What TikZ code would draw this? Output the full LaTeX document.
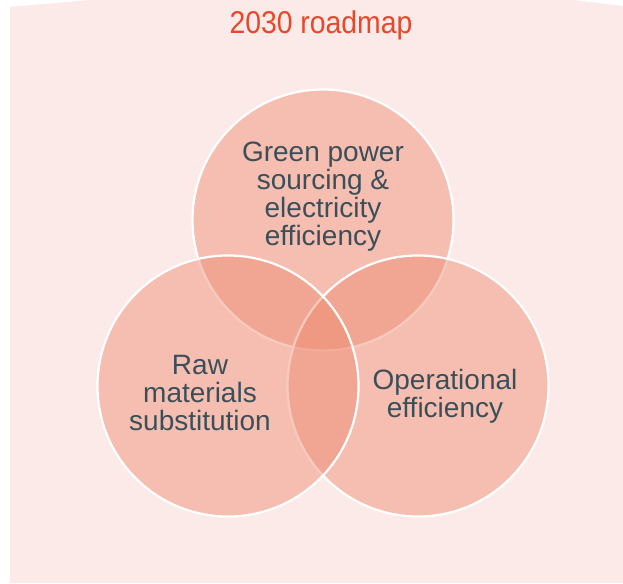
\documentclass[tikz,border=0pt]{standalone}
\usepackage{fontspec}
\setmainfont{Liberation Sans}
\newfontfamily\titlefont[FakeStretch=0.9]{Liberation Sans}
\definecolor{Blush}{HTML}{FBEAE8}
\definecolor{Coral}{HTML}{EE8A70}
\definecolor{Vermil}{HTML}{E8472B}
\definecolor{Slate}{HTML}{3B4F59}

\begin{document}
\begin{tikzpicture}[x=1pt,y=-1pt,
  ring/.style={circle,draw=white,line width=2.2pt,fill=Coral,fill opacity=0.45,minimum size=261pt,inner sep=0pt},
  lbl/.style={align=center,text=Slate,inner sep=0pt,font=\fontsize{28}{28}\selectfont}]
\useasboundingbox (0,0) rectangle (623,583);
\fill[Blush] (10,583) -- (10,7) -- (90,0) -- (573,0) -- (623,6) -- (623,583) -- cycle;
\node[font=\titlefont\fontsize{31.5}{34}\selectfont,text=Vermil,anchor=base](title) at (321,33.5) {2030 roadmap};
% circles, back to front
\node[ring](g) at (323,220) {};
\node[ring](o) at (418,386) {};
\node[ring](r) at (228,386) {};
% labels
\node[lbl](gt) at (323,197) {Green power\\sourcing \&\\electricity\\efficiency};
\node[lbl](rt) at (200,393) {Raw\\materials\\substitution};
\node[lbl](ot) at (445,396) {Operational\\efficiency};
\end{tikzpicture}
\end{document}
